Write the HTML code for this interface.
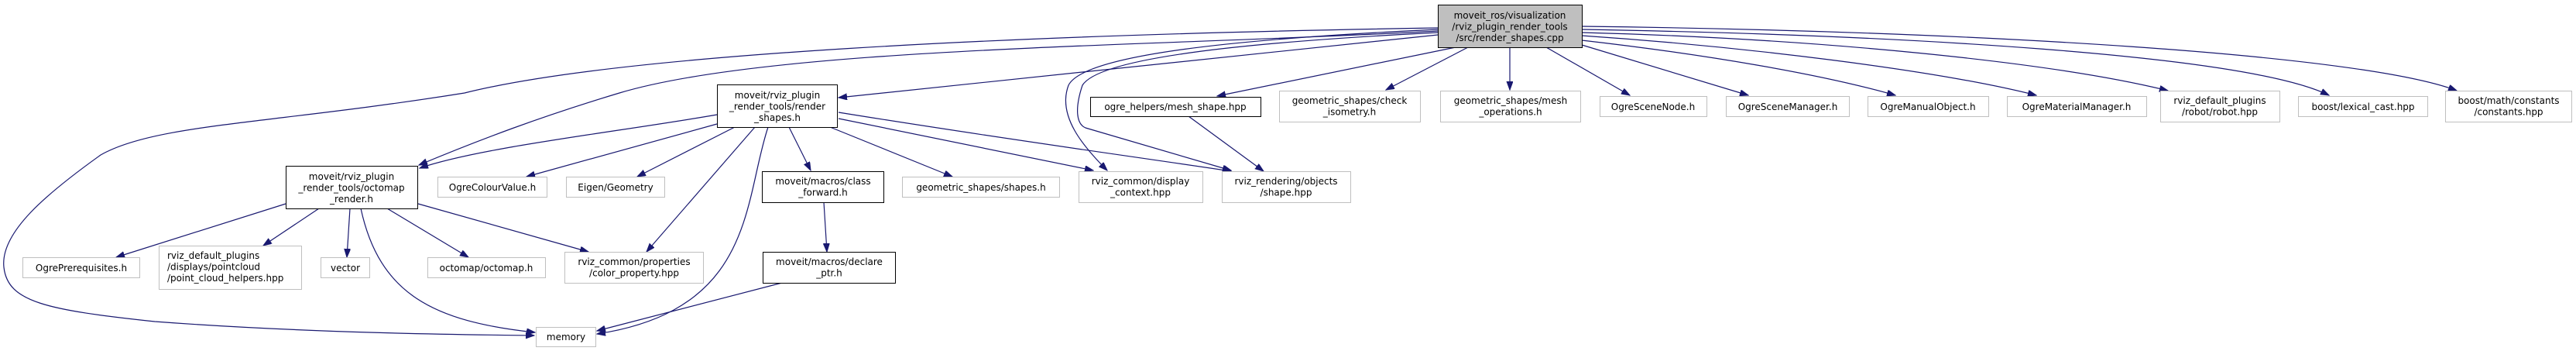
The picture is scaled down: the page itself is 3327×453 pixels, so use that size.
<!DOCTYPE html>
<html><head><meta charset="utf-8"><style>
html,body{margin:0;padding:0;background:#fff;}
svg{display:block;}
text{font-family:"DejaVu Sans","Liberation Sans",sans-serif;font-size:12px;fill:#000;text-anchor:middle;}
.e{fill:none;stroke:#191970;stroke-width:1.2;}
.g{fill:#fff;stroke:#bfbfbf;stroke-width:1;}
.b{fill:#fff;stroke:#000;stroke-width:1;}
</style></head><body>
<svg width="3327" height="453" viewBox="0 0 3327 453" xmlns="http://www.w3.org/2000/svg">
<defs>
<marker id="a" markerUnits="userSpaceOnUse" markerWidth="12" markerHeight="10" refX="11" refY="4" orient="auto">
<path d="M0,0 L11,4 L0,8 z" fill="#191970" stroke="#191970"/>
</marker>
</defs>
<g marker-end="url(#a)">
<path class="e" d="M1857,36 C1300,45 800,70 600,120 C350,160 200,160 130,200 C60,250 0,300 5,345 C10,390 60,400 200,415 C400,430 600,432 690,433"/>
<path class="e" d="M1857,40 C1500,60 1000,60 800,120 C700,150 620,180 541,213"/>
<path class="e" d="M1857,45 L1083,126"/>
<path class="e" d="M1857,38 C1600,50 1400,70 1380,110 C1365,150 1400,190 1430,220"/>
<path class="e" d="M1857,42 C1600,55 1420,75 1398,110 C1388,140 1390,160 1402,165 L1590,220"/>
<path class="e" d="M1880,61 L1572,124"/>
<path class="e" d="M1896,61 L1790,116"/>
<path class="e" d="M1950,61 L1950,116"/>
<path class="e" d="M1997,61 L2105,123"/>
<path class="e" d="M2043,58 L2258,123"/>
<path class="e" d="M2043,52 C2200,70 2350,95 2448,123"/>
<path class="e" d="M2043,46 C2250,60 2500,90 2630,123"/>
<path class="e" d="M2043,42 C2350,50 2650,80 2800,117"/>
<path class="e" d="M2043,38 C2450,45 2900,70 3008,123"/>
<path class="e" d="M2043,34 C2550,40 3050,70 3173,117"/>
<path class="e" d="M926,148 C800,170 620,190 542,217"/>
<path class="e" d="M926,160 L680,228"/>
<path class="e" d="M949,164 L823,228"/>
<path class="e" d="M975,164 L835,325"/>
<path class="e" d="M992,164 C960,260 975,400 771,431"/>
<path class="e" d="M1019,164 L1047,220"/>
<path class="e" d="M1072,164 L1230,228"/>
<path class="e" d="M1083,153 L1412,220"/>
<path class="e" d="M1083,145 C1300,180 1450,200 1590,221"/>
<path class="e" d="M369,263 L150,332"/>
<path class="e" d="M412,269 L340,317"/>
<path class="e" d="M452,269 L448,332"/>
<path class="e" d="M466,269 C490,380 560,415 691,429"/>
<path class="e" d="M500,269 L605,332"/>
<path class="e" d="M540,263 L760,325"/>
<path class="e" d="M1064,261 L1068,325"/>
<path class="e" d="M1010,365 L771,427"/>
<path class="e" d="M1535,150 L1632,221"/>
</g>
<rect x="1857.5" y="6.5" width="186" height="55" fill="#bfbfbf" stroke="#000"/>
<text x="1950" y="24">moveit_ros/visualization</text>
<text x="1950" y="38.5">/rviz_plugin_render_tools</text>
<text x="1950" y="53">/src/render_shapes.cpp</text>

<rect class="b" x="926.5" y="109.5" width="155" height="55"/>
<text x="1004" y="127">moveit/rviz_plugin</text>
<text x="1004" y="141.5">_render_tools/render</text>
<text x="1004" y="156">_shapes.h</text>

<rect class="b" x="1408.5" y="125.5" width="220" height="25"/>
<text x="1518" y="142">ogre_helpers/mesh_shape.hpp</text>

<rect class="g" x="1652.5" y="117.5" width="182" height="40"/>
<text x="1743" y="134">geometric_shapes/check</text>
<text x="1743" y="148.5">_isometry.h</text>

<rect class="g" x="1860.5" y="117.5" width="181" height="40"/>
<text x="1951" y="134">geometric_shapes/mesh</text>
<text x="1951" y="148.5">_operations.h</text>

<rect class="g" x="2066.5" y="124.5" width="138" height="26"/>
<text x="2135" y="142">OgreSceneNode.h</text>
<rect class="g" x="2229.5" y="124.5" width="159" height="26"/>
<text x="2309" y="142">OgreSceneManager.h</text>
<rect class="g" x="2412.5" y="124.5" width="156" height="26"/>
<text x="2490" y="142">OgreManualObject.h</text>
<rect class="g" x="2592.5" y="124.5" width="180" height="26"/>
<text x="2682" y="142">OgreMaterialManager.h</text>

<rect class="g" x="2790.5" y="117.5" width="154" height="40"/>
<text x="2867" y="134">rviz_default_plugins</text>
<text x="2867" y="148.5">/robot/robot.hpp</text>
<rect class="g" x="2968.5" y="124.5" width="167" height="26"/>
<text x="3052" y="142">boost/lexical_cast.hpp</text>
<rect class="g" x="3158.5" y="117.5" width="163" height="40"/>
<text x="3240" y="134">boost/math/constants</text>
<text x="3240" y="148.5">/constants.hpp</text>

<rect class="b" x="369.5" y="214.5" width="170" height="55"/>
<text x="454" y="232">moveit/rviz_plugin</text>
<text x="454" y="246.5">_render_tools/octomap</text>
<text x="454" y="261">_render.h</text>

<rect class="g" x="565.5" y="228.5" width="141" height="26"/>
<text x="636" y="246">OgreColourValue.h</text>
<rect class="g" x="731.5" y="228.5" width="127" height="26"/>
<text x="795" y="246">Eigen/Geometry</text>

<rect class="b" x="984.5" y="221.5" width="157" height="40"/>
<text x="1063" y="238">moveit/macros/class</text>
<text x="1063" y="252.5">_forward.h</text>

<rect class="g" x="1165.5" y="228.5" width="203" height="26"/>
<text x="1267" y="246">geometric_shapes/shapes.h</text>

<rect class="g" x="1393.5" y="221.5" width="160" height="40"/>
<text x="1473" y="238">rviz_common/display</text>
<text x="1473" y="252.5">_context.hpp</text>

<rect class="g" x="1578.5" y="221.5" width="166" height="40"/>
<text x="1661" y="238">rviz_rendering/objects</text>
<text x="1661" y="252.5">/shape.hpp</text>

<rect class="g" x="29.5" y="332.5" width="151" height="26"/>
<text x="105" y="350">OgrePrerequisites.h</text>

<rect class="g" x="205.5" y="317.5" width="184" height="56"/>
<text x="216" y="334" style="text-anchor:start">rviz_default_plugins</text>
<text x="216" y="348.5" style="text-anchor:start">/displays/pointcloud</text>
<text x="216" y="363" style="text-anchor:start">/point_cloud_helpers.hpp</text>

<rect class="g" x="414.5" y="332.5" width="63" height="26"/>
<text x="446" y="350">vector</text>

<rect class="g" x="552.5" y="332.5" width="152" height="26"/>
<text x="628" y="350">octomap/octomap.h</text>

<rect class="g" x="729.5" y="325.5" width="179" height="40"/>
<text x="819" y="342">rviz_common/properties</text>
<text x="819" y="356.5">/color_property.hpp</text>

<rect class="b" x="985.5" y="325.5" width="171" height="40"/>
<text x="1071" y="342">moveit/macros/declare</text>
<text x="1071" y="356.5">_ptr.h</text>

<rect class="g" x="692.5" y="422.5" width="77" height="25"/>
<text x="731" y="439">memory</text>
</svg>
</body></html>
